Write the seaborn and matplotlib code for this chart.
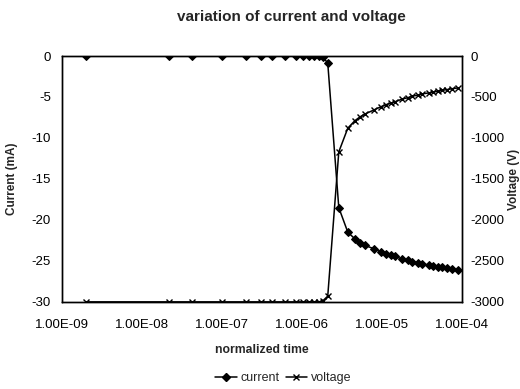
import matplotlib
matplotlib.use("Agg")
import matplotlib.pyplot as plt
import seaborn as sns
import pandas as pd
from matplotlib.lines import Line2D

time = [2.0e-9, 2.2e-8, 4.2e-8, 1.0e-7, 2.0e-7, 3.1e-7, 4.2e-7, 6.1e-7, 8.4e-7,
        1.03e-6, 1.22e-6, 1.41e-6, 1.63e-6, 1.82e-6, 2.11e-6,
        2.9e-6, 3.76e-6, 4.6e-6, 5.3e-6, 6.1e-6, 7.9e-6, 9.7e-6,
        1.12e-5, 1.3e-5, 1.45e-5, 1.8e-5, 2.1e-5, 2.4e-5, 2.8e-5, 3.2e-5,
        3.9e-5, 4.4e-5, 5.0e-5, 5.6e-5, 6.5e-5, 7.5e-5, 8.9e-5]
current = [0, 0, 0, 0, 0, 0, 0, 0, 0,
           0, 0, 0, 0, -0.1, -0.85,
           -18.5, -21.5, -22.3, -22.8, -23.1, -23.5, -23.9,
           -24.1, -24.3, -24.4, -24.8, -24.9, -25.1, -25.2, -25.4,
           -25.5, -25.6, -25.7, -25.8, -25.9, -26.0, -26.1]
voltage = [-3000, -3000, -3000, -3000, -3000, -3000, -3000, -3000, -3000,
           -3000, -3000, -3000, -3000, -2990, -2930,
           -1170, -880, -790, -745, -710, -660, -620,
           -595, -575, -560, -525, -510, -490, -478, -462,
           -450, -440, -430, -420, -410, -400, -390]

xtick_vals = [1e-9, 1e-8, 1e-7, 1e-6, 1e-5, 1e-4]
xtick_labels = ["1.00E-09", "1.00E-08", "1.00E-07", "1.00E-06", "1.00E-05", "1.00E-04"]
left_ticks = [0, -5, -10, -15, -20, -25, -30]
right_ticks = [0, -500, -1000, -1500, -2000, -2500, -3000]

sns.set_style("white")
plt.rcParams['font.family'] = ['Liberation Sans', 'DejaVu Sans']
plt.rcParams['axes.unicode_minus'] = False

df = pd.DataFrame({"time": time, "current": current, "voltage": voltage})

fig = plt.figure(figsize=(5.2, 3.89), dpi=100)
ax = fig.add_axes([0.119, 0.224, 0.769, 0.632])
ax2 = ax.twinx()

sns.lineplot(data=df, x="time", y="current", ax=ax, color="black", marker="D",
             markersize=4, markeredgecolor="black", markerfacecolor="black",
             linewidth=1.1)
sns.lineplot(data=df, x="time", y="voltage", ax=ax2, color="black", marker="x",
             markersize=5, markeredgecolor="black", markeredgewidth=1.0,
             linewidth=1.1)

ax.set_xscale("log")
ax.set_xlim(1e-9, 1e-4)
ax.set_xticks(xtick_vals)
ax.set_xticklabels(xtick_labels)
ax.minorticks_off()
ax.set_ylim(-30, 0)
ax.set_yticks(left_ticks)
ax2.set_ylim(-3000, 0)
ax2.set_yticks(right_ticks)

for a in (ax, ax2):
    a.tick_params(axis="both", length=0, labelsize=9.5, colors="black")
    for s in a.spines.values():
        s.set_color("black")
        s.set_linewidth(1.0)
        s.set_visible(True)
ax.tick_params(axis="x", pad=12)
ax.tick_params(axis="y", pad=8)
ax2.tick_params(axis="y", pad=6)

ax.set_xlabel("normalized time", fontsize=8.8, fontweight="bold", labelpad=10)
ax.set_ylabel("Current (mA)", fontsize=8.5, fontweight="bold")
ax2.set_ylabel("Voltage (V)", fontsize=8.5, fontweight="bold")
ax.yaxis.set_label_coords(-0.11, 0.5)
ax2.yaxis.set_label_coords(1.115, 0.5)
fig.suptitle("variation of current and voltage", fontsize=11, fontweight="bold",
             x=0.56, y=0.975)

handles = [Line2D([], [], color="black", marker="D", markersize=4, linewidth=1.1),
           Line2D([], [], color="black", marker="x", markersize=5, linewidth=1.1)]
fig.legend(handles, ["current", "voltage"], loc="center", bbox_to_anchor=(0.545, 0.027),
           ncol=2, frameon=False, fontsize=9, handlelength=1.7, columnspacing=0.5,
           handletextpad=0.3)

fig.savefig("out.png", dpi=100)
